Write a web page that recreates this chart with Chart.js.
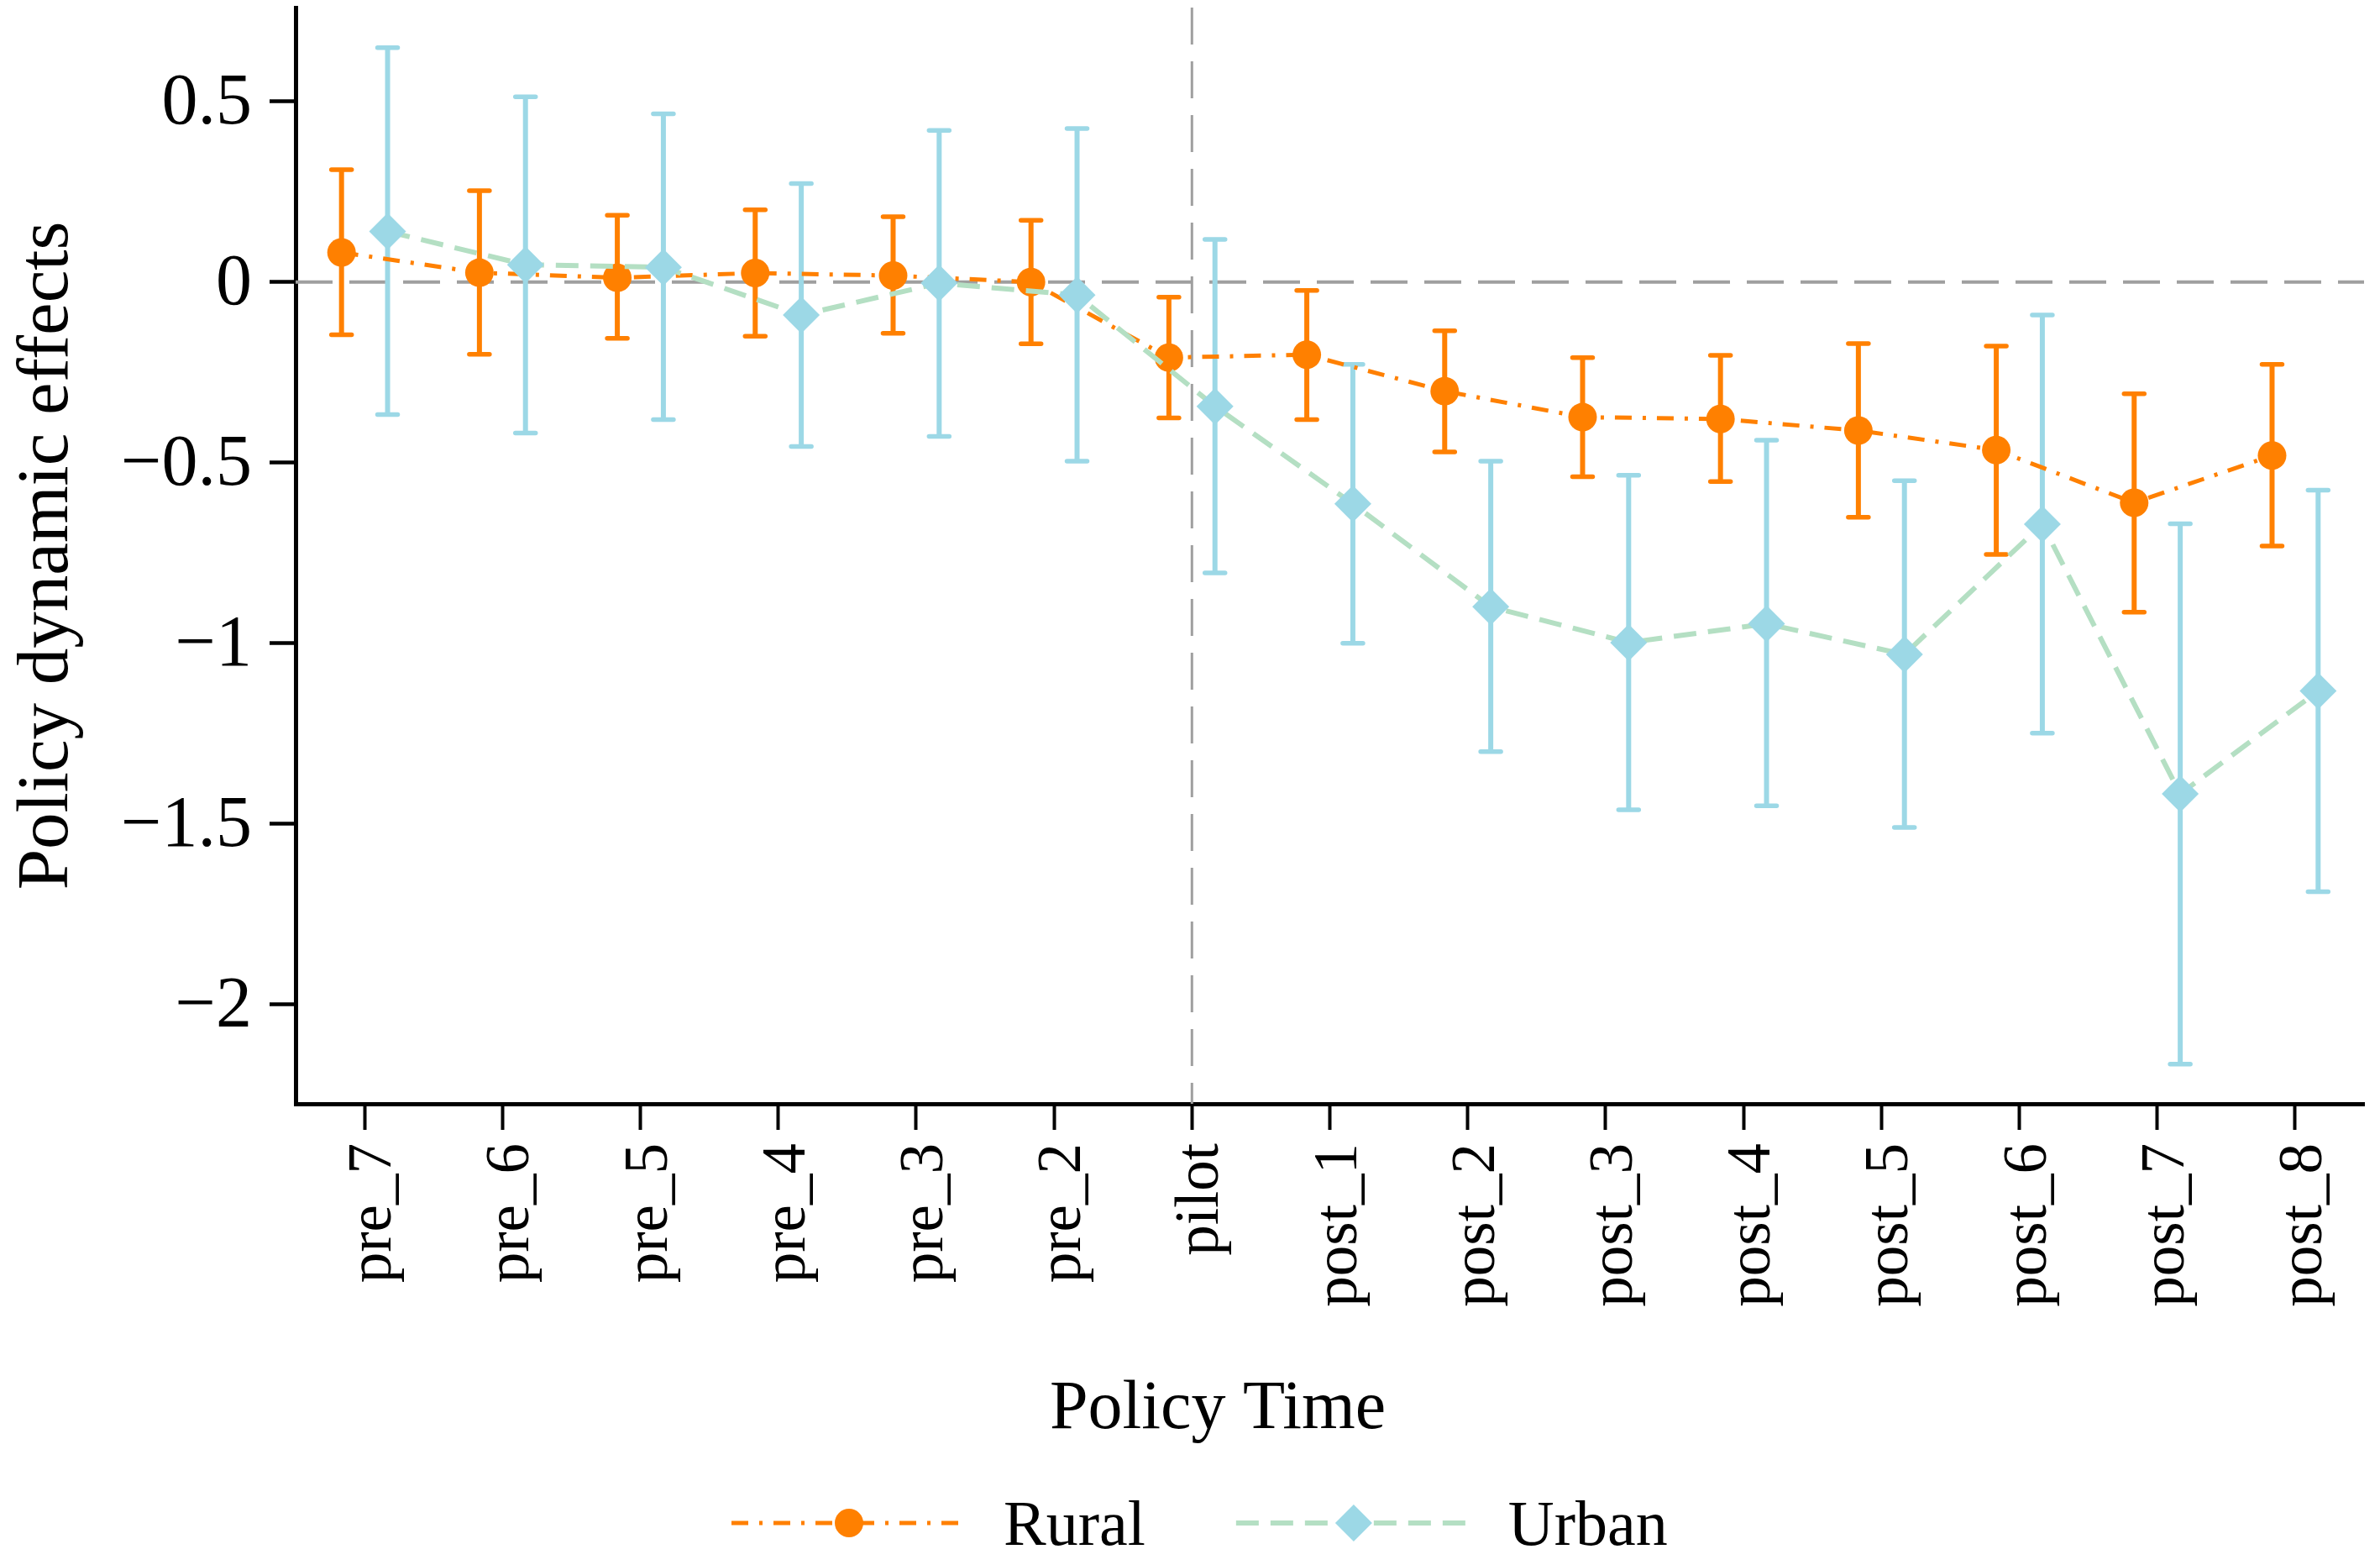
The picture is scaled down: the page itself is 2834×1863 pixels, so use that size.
<!DOCTYPE html>
<html>
<head>
<meta charset="utf-8">
<title>Policy dynamic effects</title>
<script src="https://cdn.jsdelivr.net/npm/chart.js@4.4.1/dist/chart.umd.min.js"></script>
<style>
  html, body { margin: 0; padding: 0; background: #fff; }
  canvas { display: block; }
</style>
</head>
<body>
<canvas id="chart" width="2834" height="1863"></canvas>
<script>
// Event-study estimates (point + 95% CI)
const periods = ['pre_7', 'pre_6', 'pre_5', 'pre_4', 'pre_3', 'pre_2', 'pilot',
  'post_1', 'post_2', 'post_3', 'post_4', 'post_5', 'post_6', 'post_7', 'post_8'];

const ruralCoef = [0.082, 0.026, 0.012, 0.025, 0.018, 0.0, -0.209, -0.201, -0.302, -0.374, -0.379, -0.411, -0.465, -0.611, -0.480];
const ruralLow  = [-0.146, -0.200, -0.156, -0.150, -0.142, -0.171, -0.376, -0.381, -0.470, -0.539, -0.552, -0.651, -0.754, -0.914, -0.731];
const ruralHigh = [0.311, 0.253, 0.185, 0.200, 0.181, 0.171, -0.042, -0.023, -0.135, -0.209, -0.203, -0.170, -0.177, -0.309, -0.228];

const urbanCoef = [0.140, 0.048, 0.041, -0.091, -0.003, -0.036, -0.344, -0.614, -0.899, -0.998, -0.946, -1.031, -0.670, -1.417, -1.132];
const urbanLow  = [-0.367, -0.418, -0.381, -0.455, -0.427, -0.496, -0.805, -1.000, -1.300, -1.461, -1.450, -1.510, -1.249, -2.165, -1.688];
const urbanHigh = [0.649, 0.513, 0.466, 0.273, 0.420, 0.425, 0.118, -0.228, -0.496, -0.535, -0.438, -0.550, -0.091, -0.669, -0.576];

const yTickValues = [0.5, 0, -0.5, -1, -1.5, -2];
const pilotIndex = 6;

// Styling
const FONT = "'Liberation Serif', 'Times New Roman', serif";
const ORANGE = '#ff8000';
const BLUE = '#9cd8e6';
const GREEN = '#b4dfc3';
const GREY = '#9f9f9f';
const SHIFT = 0.167; // horizontal dodge of the two series

const ciSeries = [
  { low: ruralLow, high: ruralHigh, shift: -SHIFT, color: ORANGE },
  { low: urbanLow, high: urbanHigh, shift: SHIFT, color: BLUE }
];

// Dashed reference lines at 0 and at the pilot year
const refLines = {
  id: 'refLines',
  beforeDatasetsDraw(chart) {
    const { ctx, chartArea: a, scales: { x, y } } = chart;
    ctx.save();
    ctx.strokeStyle = GREY;
    ctx.setLineDash([44, 20]);
    ctx.lineWidth = 4;
    const y0 = y.getPixelForValue(0);
    ctx.beginPath();
    ctx.moveTo(a.left, y0);
    ctx.lineTo(a.right, y0);
    ctx.stroke();
    ctx.lineWidth = 3;
    const xp = x.getPixelForValue(pilotIndex);
    ctx.beginPath();
    ctx.moveTo(xp, a.top);
    ctx.lineTo(xp, a.bottom);
    ctx.stroke();
    ctx.restore();
  }
};

// Capped confidence interval spikes
const errorBars = {
  id: 'errorBars',
  beforeDatasetsDraw(chart) {
    const { ctx, scales: { x, y } } = chart;
    ctx.save();
    ciSeries.forEach(s => {
      ctx.strokeStyle = s.color;
      s.low.forEach((lo, i) => {
        const px = x.getPixelForValue(i + s.shift);
        const top = y.getPixelForValue(s.high[i]);
        const bot = y.getPixelForValue(lo);
        ctx.lineCap = 'butt';
        ctx.lineWidth = 6;
        ctx.beginPath();
        ctx.moveTo(px, top);
        ctx.lineTo(px, bot);
        ctx.stroke();
        ctx.lineCap = 'round';
        ctx.lineWidth = 5.5;
        ctx.beginPath();
        ctx.moveTo(px - 12, top); ctx.lineTo(px + 12, top);
        ctx.moveTo(px - 12, bot); ctx.lineTo(px + 12, bot);
        ctx.stroke();
      });
    });
    ctx.restore();
  }
};

// X title and Stata-style legend (line sample with marker in the middle)
const bottomText = {
  id: 'bottomText',
  afterDraw(chart) {
    const { ctx } = chart;
    ctx.save();
    ctx.fillStyle = '#000';
    ctx.font = `82px ${FONT}`;
    ctx.textAlign = 'center';
    ctx.textBaseline = 'alphabetic';
    ctx.fillText('Policy Time', 1450, 1700);

    ctx.font = `76px ${FONT}`;
    ctx.textAlign = 'left';
    const legendY = 1813;
    let x0 = 871;
    chart.data.datasets.forEach(ds => {
      const len = 280;
      ctx.save();
      ctx.strokeStyle = ds.borderColor;
      ctx.lineWidth = ds.borderWidth;
      ctx.setLineDash(ds.borderDash);
      ctx.beginPath();
      ctx.moveTo(x0, legendY);
      ctx.lineTo(x0 + len, legendY);
      ctx.stroke();
      ctx.restore();
      ctx.save();
      ctx.fillStyle = ds.pointBackgroundColor;
      Chart.helpers.drawPoint(ctx, { pointStyle: ds.pointStyle, radius: ds.pointRadius, rotation: 0, borderWidth: 0 }, x0 + len / 2, legendY);
      ctx.restore();
      const tx = x0 + len + 44;
      ctx.fillText(ds.label, tx, 1839);
      x0 = tx + ctx.measureText(ds.label).width + 108;
    });
    ctx.restore();
  }
};

new Chart(document.getElementById('chart'), {
  type: 'line',
  data: {
    datasets: [
      {
        label: 'Rural',
        data: ruralCoef.map((v, i) => ({ x: i - SHIFT, y: v })),
        borderColor: ORANGE,
        borderWidth: 5,
        borderDash: [20, 13, 4, 13],
        pointStyle: 'circle',
        pointRadius: 17,
        pointBackgroundColor: ORANGE,
        pointBorderColor: ORANGE,
        pointBorderWidth: 0,
        fill: false,
        order: 2
      },
      {
        label: 'Urban',
        data: urbanCoef.map((v, i) => ({ x: i + SHIFT, y: v })),
        borderColor: GREEN,
        borderWidth: 6,
        borderDash: [27, 14],
        pointStyle: 'rectRot',
        pointRadius: 22,
        pointBackgroundColor: BLUE,
        pointBorderColor: BLUE,
        pointBorderWidth: 0,
        fill: false,
        order: 1
      }
    ]
  },
  options: {
    responsive: false,
    devicePixelRatio: 1,
    animation: false,
    events: [],
    layout: { autoPadding: false, padding: { top: 9, right: 19, bottom: 120, left: 0 } },
    plugins: {
      legend: { display: false },
      tooltip: { enabled: false }
    },
    scales: {
      x: {
        type: 'linear',
        min: -0.5,
        max: 14.5,
        afterBuildTicks: s => { s.ticks = periods.map((_, i) => ({ value: i })); },
        afterFit: s => { s.height = 429; s.paddingLeft = 0; s.paddingRight = 0; },
        ticks: {
          callback: v => periods[v],
          autoSkip: false,
          minRotation: 90,
          maxRotation: 90,
          padding: 16,
          labelOffset: 12,
          color: '#000',
          font: { family: FONT, size: 73 }
        },
        grid: { drawOnChartArea: false, drawTicks: true, tickLength: 31, tickWidth: 4, tickColor: '#000' },
        border: { display: true, color: '#000', width: 5 }
      },
      y: {
        type: 'linear',
        min: -2.275,
        max: 0.76,
        afterBuildTicks: s => { s.ticks = yTickValues.map(v => ({ value: v })); },
        afterFit: s => { s.width = 352; s.paddingTop = 0; s.paddingBottom = 0; },
        ticks: {
          callback: v => (v < 0 ? '\u2212' + (-v) : String(v)),
          padding: 21,
          labelOffset: 4,
          color: '#000',
          font: { family: FONT, size: 86 }
        },
        grid: { drawOnChartArea: false, drawTicks: true, tickLength: 31, tickWidth: 4.5, tickColor: '#000' },
        border: { display: true, color: '#000', width: 5 },
        title: {
          display: true,
          text: 'Policy dynamic effects',
          color: '#000',
          font: { family: FONT, size: 87 },
          padding: { top: 5, bottom: 0 }
        }
      }
    }
  },
  plugins: [refLines, errorBars, bottomText]
});
</script>
</body>
</html>
